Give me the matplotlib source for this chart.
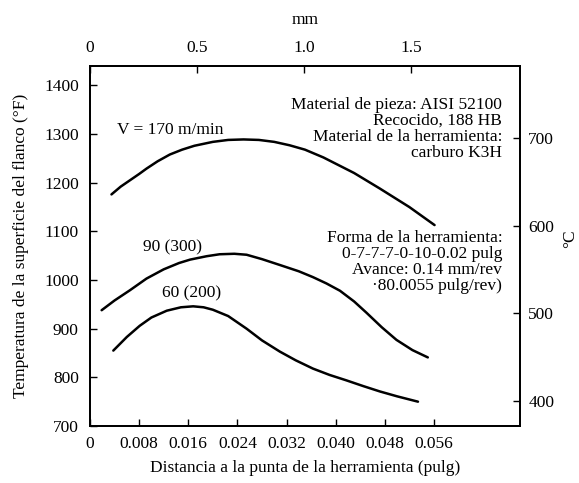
import matplotlib
matplotlib.use('Agg')
import matplotlib.pyplot as plt
import numpy as np

plt.rcParams['font.family'] = ['Liberation Serif', 'DejaVu Serif']
plt.rcParams['font.size'] = 12.5

# distance from tool tip (in) and flank temperature (F)
x_170 = [0.0035, 0.0050, 0.0065, 0.0080, 0.0092, 0.0110, 0.0130, 0.0150, 0.0170, 0.0200,
         0.0225, 0.0250, 0.0275, 0.0300, 0.0325, 0.0350, 0.0380, 0.0430, 0.0472, 0.0520, 0.0561]
t_170 = [1176, 1192, 1205, 1218, 1229, 1244, 1258, 1268, 1276, 1284,
         1288, 1289, 1288, 1284, 1277, 1268, 1252, 1220, 1188, 1150, 1113]

x_90 = [0.0019, 0.0040, 0.0065, 0.0092, 0.0120, 0.0145, 0.0163, 0.0190, 0.0211, 0.0235,
        0.0255, 0.0280, 0.0309, 0.0340, 0.0363, 0.0385, 0.0407, 0.0430, 0.0450, 0.0475,
        0.0499, 0.0525, 0.0550]
t_90 = [938, 958, 979, 1003, 1022, 1035, 1042, 1049, 1053, 1054,
        1052, 1043, 1031, 1018, 1006, 993, 978, 956, 933, 903,
        877, 856, 841]

x_60 = [0.0038, 0.0060, 0.0081, 0.0100, 0.0125, 0.0148, 0.0168, 0.0185, 0.0200, 0.0225,
        0.0255, 0.0280, 0.0309, 0.0335, 0.0363, 0.0390, 0.0417, 0.0445, 0.0472, 0.0500, 0.0534]
t_60 = [855, 883, 906, 923, 937, 944, 946, 944, 939, 926,
        900, 876, 853, 835, 818, 805, 794, 782, 771, 761, 750]

x_ticks = [0, 0.008, 0.016, 0.024, 0.032, 0.040, 0.048, 0.056]
x_labels = ['0', '0.008', '0.016', '0.024', '0.032', '0.040', '0.048', '0.056']
y_ticks = [700, 800, 900, 1000, 1100, 1200, 1300, 1400]
mm_ticks = [0, 0.5, 1.0, 1.5]
mm_labels = ['0', '0.5', '1.0', '1.5']
c_ticks = [400, 500, 600, 700]

fig = plt.figure(figsize=(5.79, 4.83), dpi=100)
ax = fig.add_axes([0.1554, 0.118, 0.7426, 0.7454])

for xs, ts in [(x_170, t_170), (x_90, t_90), (x_60, t_60)]:
    ax.plot(xs, ts, color='black', linewidth=1.8, solid_capstyle='round')

ax.set_xlim(0, 0.07)
ax.set_ylim(700, 1440)
ax.set_xticks(x_ticks)
ax.set_xticklabels(x_labels)
ax.set_yticks(y_ticks)
ax.tick_params(axis='x', direction='in', length=5, width=1, pad=7)
ax.tick_params(axis='y', direction='in', length=5, width=1, pad=8)
ax.set_xlabel('Distancia a la punta de la herramienta (pulg)', labelpad=6)
ax.set_ylabel('Temperatura de la superficie del flanco (°F)', labelpad=11)

# top axis in mm
axt = ax.twiny()
axt.set_xlim(0, 2.01)
axt.set_xticks(mm_ticks)
axt.set_xticklabels(mm_labels)
axt.tick_params(direction='in', length=5, width=1, pad=7)
axt.set_xlabel('mm', labelpad=12)

# right axis in C
axr = ax.twinx()
axr.set_ylim((700 - 32) / 1.8, (1440 - 32) / 1.8)
axr.set_yticks(c_ticks)
axr.tick_params(direction='in', length=5, width=1, pad=6)
fig.text(0.984, 0.505, '°C', rotation=90, ha='center', va='center')

for a in (ax, axt, axr):
    for s in a.spines.values():
        s.set_linewidth(1.2)

ax.text(0.0044, 1308, 'V = 170 m/min', ha='left', va='center')
ax.text(0.0086, 1068, '90 (300)', ha='left', va='center')
ax.text(0.0117, 973, '60 (200)', ha='left', va='center')

ax.text(0.0671, 1376, 'Material de pieza: AISI 52100\nRecocido, 188 HB\n'
        'Material de la herramienta:\ncarburo K3H',
        ha='right', va='top', linespacing=1.0)
ax.text(0.0671, 1102, 'Forma de la herramienta:\n0-7-7-7-0-10-0.02 pulg\n'
        'Avance: 0.14 mm/rev\n·80.0055 pulg/rev)',
        ha='right', va='top', linespacing=1.0)

fig.savefig('out.png', dpi=100)
